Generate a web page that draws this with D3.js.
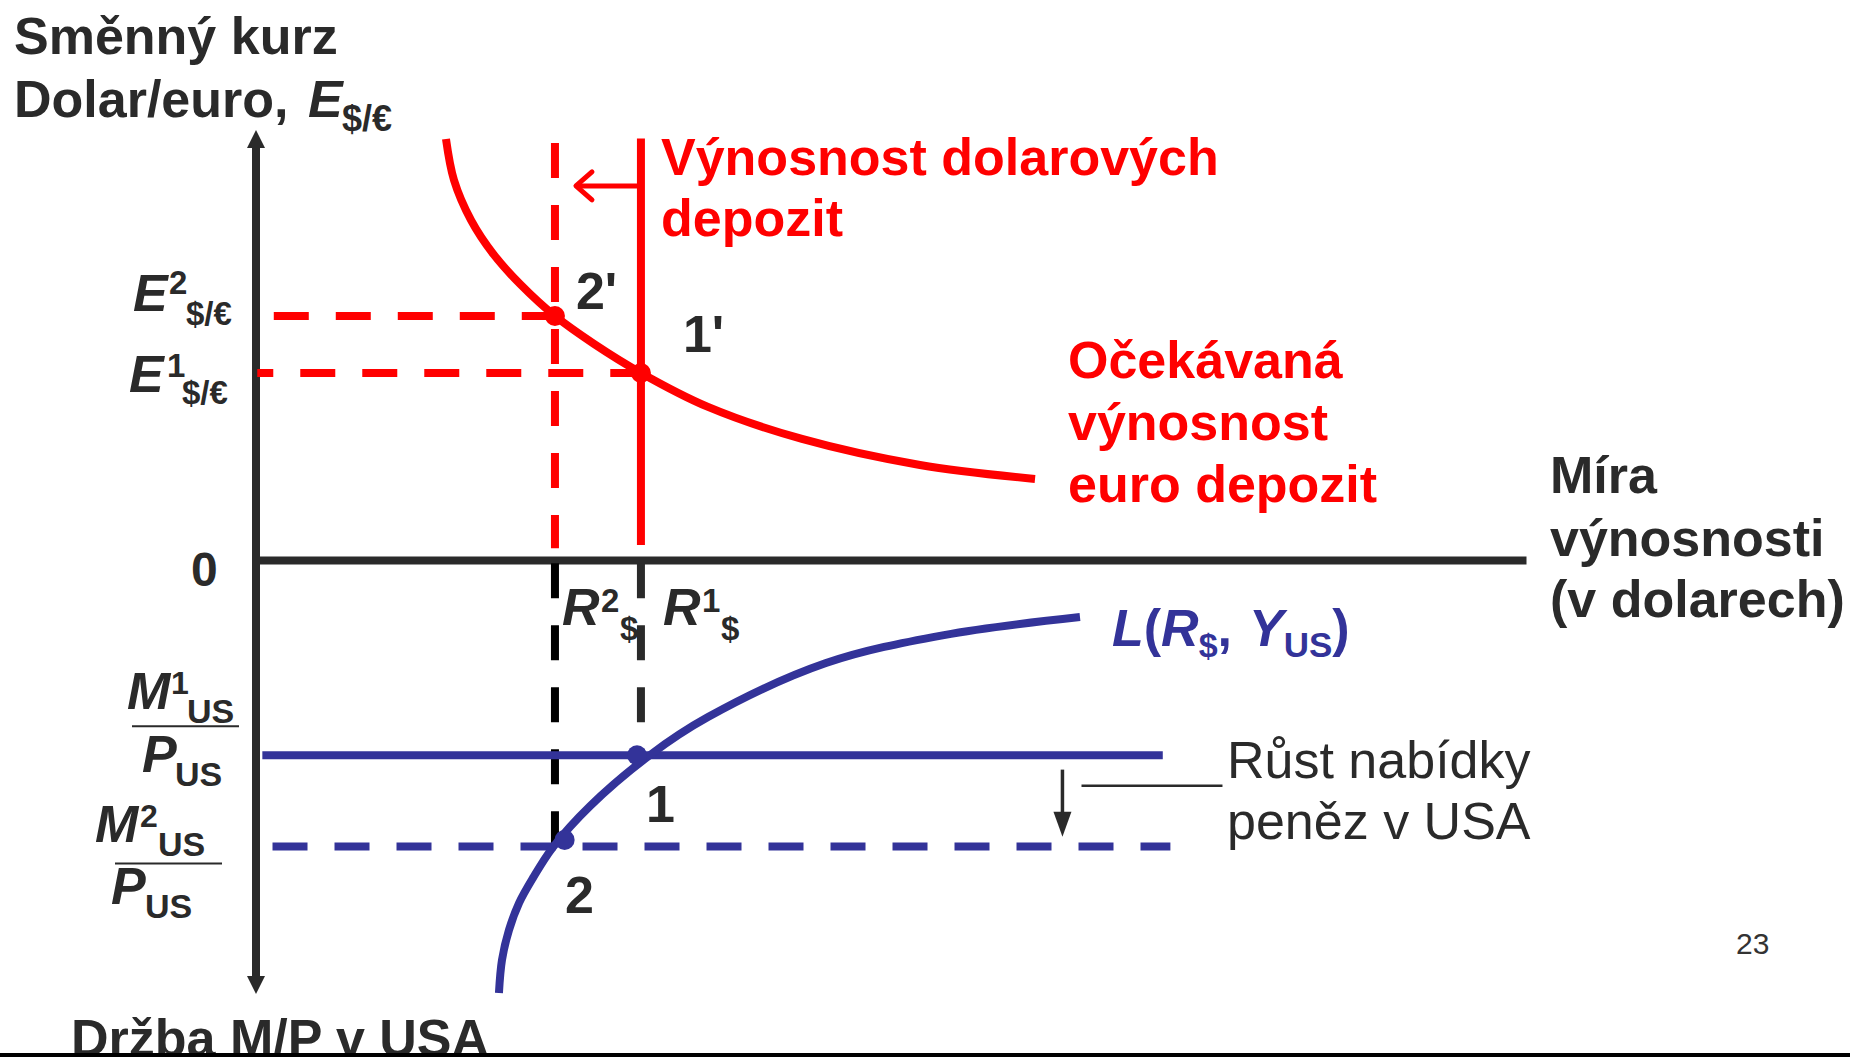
<!DOCTYPE html>
<html>
<head>
<meta charset="utf-8">
<script src="https://cdn.jsdelivr.net/npm/d3@7"></script>
<style>
  html, body { margin: 0; padding: 0; background: #fff; overflow: hidden; }
  svg { display: block; }
  text { font-family: "Liberation Sans", Arial, sans-serif; }
</style>
</head>
<body>
<svg id="chart"></svg>
<script>
// expected return on euro deposits (red curve): rate of return vs. exchange rate E$/€
const euroR = [1.496, 1.559, 1.693, 1.874, 2.087, 2.354, 2.661, 3.031, 3.559, 4.299, 5.228, 6.134];
const euroE = [1.958, 1.767, 1.581, 1.419, 1.279, 1.135, 1.005, 0.870, 0.712, 0.563, 0.442, 0.377];

// money demand L(R$, Y_US) (blue curve): rate of return vs. real money holdings
const demandR = [1.913, 1.937, 1.992, 2.071, 2.181, 2.339, 2.630, 3.102, 3.559, 4.488, 5.417, 6.488];
const demandM = [1.995, 1.843, 1.705, 1.581, 1.465, 1.323, 1.134, 0.899, 0.724, 0.475, 0.346, 0.263];

// equilibria: index 0 = state 2, index 1 = state 1
const rates = [2.354, 3.031];      // R2$, R1$
const exRates = [1.135, 0.870];    // E2, E1
const moneySupply = [1.32, 0.90];  // M2/P, M1/P
const demandDotR = [2.43, 3.00];
const demandDotM = [1.29, 0.90];

const W = 1850, H = 1057;
const RED = '#ff0000', BLUE = '#333399', INK = '#2a2a2a';
const DASH = '35,27';

const svg = d3.select('#chart').attr('width', W).attr('height', H);

// scales: one x for rate of return, E grows upwards, M/P grows downwards
const x  = d3.scaleLinear().domain([0, 10]).range([256, 1526]);
const yE = d3.scaleLinear().domain([0, 2]).range([560, 130]);
const yM = d3.scaleLinear().domain([0, 2]).range([560, 994]);

const line = d3.line().curve(d3.curveCatmullRom.alpha(0.5));

// horizontal axis
svg.append('g')
  .attr('transform', `translate(0,${yE(0)})`)
  .call(d3.axisBottom(x).tickValues([]).tickSizeOuter(0))
  .call(g => g.select('.domain').attr('stroke', INK).attr('stroke-width', 8));

// vertical axis with arrow heads at both ends
const ax = x(0);
svg.append('line')
  .attr('x1', ax).attr('x2', ax)
  .attr('y1', yE(2) + 14).attr('y2', yM(2) - 14)
  .attr('stroke', INK).attr('stroke-width', 8);
svg.append('path')
  .attr('d', `M${ax},${yE(2)} L${ax - 9},${yE(2) + 18} L${ax + 9},${yE(2) + 18} Z`)
  .attr('fill', INK);
svg.append('path')
  .attr('d', `M${ax},${yM(2)} L${ax - 9},${yM(2) - 18} L${ax + 9},${yM(2) - 18} Z`)
  .attr('fill', INK);

// ---- upper panel (red) ----
const up = svg.append('g');

// E2 / E1 guide lines
up.append('line')
  .attr('x1', x(0.14)).attr('x2', x(rates[0]))
  .attr('y1', yE(exRates[0])).attr('y2', yE(exRates[0]))
  .attr('stroke', RED).attr('stroke-width', 8).attr('stroke-dasharray', DASH);
up.append('line')
  .attr('x1', x(0.01)).attr('x2', x(rates[1]))
  .attr('y1', yE(exRates[1])).attr('y2', yE(exRates[1]))
  .attr('stroke', RED).attr('stroke-width', 8)
  .attr('stroke-dasharray', DASH).attr('stroke-dashoffset', 19);

// dollar deposit returns: dashed (new, R2) and solid (old, R1)
up.append('line')
  .attr('x1', x(rates[0])).attr('x2', x(rates[0]))
  .attr('y1', yE(1.94)).attr('y2', yE(0.055))
  .attr('stroke', RED).attr('stroke-width', 8).attr('stroke-dasharray', DASH);
up.append('line')
  .attr('x1', x(rates[1])).attr('x2', x(rates[1]))
  .attr('y1', yE(1.96)).attr('y2', yE(0.07))
  .attr('stroke', RED).attr('stroke-width', 8);

// shift arrow
const ay = yE(1.74);
up.append('line')
  .attr('x1', x(rates[1])).attr('x2', x(rates[0]) + 22)
  .attr('y1', ay).attr('y2', ay)
  .attr('stroke', RED).attr('stroke-width', 5);
up.append('polyline')
  .attr('points', `${x(rates[0]) + 37},${ay - 14} ${x(rates[0]) + 21},${ay} ${x(rates[0]) + 37},${ay + 14}`)
  .attr('fill', 'none').attr('stroke', RED).attr('stroke-width', 5)
  .attr('stroke-linecap', 'round').attr('stroke-linejoin', 'round');

// expected euro return curve
up.append('path')
  .attr('d', line(euroR.map((r, i) => [x(r), yE(euroE[i])])))
  .attr('fill', 'none').attr('stroke', RED).attr('stroke-width', 8);

up.selectAll('circle')
  .data(rates)
  .join('circle')
    .attr('cx', d => x(d))
    .attr('cy', (d, i) => yE(exRates[i]))
    .attr('r', 10)
    .attr('fill', RED);

// ---- lower panel (blue) ----
const lo = svg.append('g');

// black dashed drop lines from the R axis
lo.selectAll('line.drop')
  .data(rates)
  .join('line')
    .attr('class', 'drop')
    .attr('x1', d => x(d)).attr('x2', d => x(d))
    .attr('y1', yM(0.015))
    .attr('y2', (d, i) => yM(moneySupply[i]))
    .attr('stroke', (d, i) => i === 0 ? '#000' : INK)
    .attr('stroke-width', 8).attr('stroke-dasharray', DASH);

// money supply lines
lo.append('line')
  .attr('x1', x(0.05)).attr('x2', x(7.14))
  .attr('y1', yM(moneySupply[1])).attr('y2', yM(moneySupply[1]))
  .attr('stroke', BLUE).attr('stroke-width', 8);
lo.append('line')
  .attr('x1', x(0.13)).attr('x2', x(7.20))
  .attr('y1', yM(moneySupply[0])).attr('y2', yM(moneySupply[0]))
  .attr('stroke', BLUE).attr('stroke-width', 8).attr('stroke-dasharray', DASH);

// money demand curve
lo.append('path')
  .attr('d', line(demandR.map((r, i) => [x(r), yM(demandM[i])])))
  .attr('fill', 'none').attr('stroke', BLUE).attr('stroke-width', 8);

lo.selectAll('circle')
  .data(demandDotR)
  .join('circle')
    .attr('cx', d => x(d))
    .attr('cy', (d, i) => yM(demandDotM[i]))
    .attr('r', 10)
    .attr('fill', BLUE);

// down arrow + leader line for the annotation
const dx = x(6.35);
lo.append('line')
  .attr('x1', dx).attr('x2', dx)
  .attr('y1', yM(0.966)).attr('y2', yM(1.17))
  .attr('stroke', INK).attr('stroke-width', 3.5);
lo.append('path')
  .attr('d', `M${dx},${yM(1.275)} L${dx - 9},${yM(1.16)} L${dx + 9},${yM(1.16)} Z`)
  .attr('fill', INK);
lo.append('line')
  .attr('x1', x(6.50)).attr('x2', x(7.61))
  .attr('y1', yM(1.04)).attr('y2', yM(1.04))
  .attr('stroke', INK).attr('stroke-width', 2.5);

// ---- text ----
function label(pieces, fill) {
  const t = svg.append('text').attr('fill', fill);
  pieces.forEach(p => {
    t.append('tspan')
      .attr('x', p.x).attr('y', p.y)
      .style('font-size', (p.s || 52) + 'px')
      .style('font-weight', p.w || 'bold')
      .style('font-style', p.i ? 'italic' : 'normal')
      .text(p.t);
  });
  return t;
}

// axis titles
label([
  { t: 'Směnný kurz', x: 14, y: 54 },
  { t: 'Dolar/euro,', x: 14, y: 117 },
  { t: 'E', x: 308, y: 117, i: true },
  { t: '$/€', x: 342, y: 131, s: 36 }
], INK);
label([
  { t: 'Míra', x: 1550, y: 493 },
  { t: 'výnosnosti', x: 1550, y: 556 },
  { t: '(v dolarech)', x: 1550, y: 617 }
], INK);
label([{ t: 'Držba M/P v USA', x: 71, y: 1056 }], INK);
label([{ t: '0', x: 191, y: 586, s: 48 }], INK);

// E labels
label([
  { t: 'E', x: 133, y: yE(exRates[0]) - 5, i: true },
  { t: '2', x: 169, y: yE(exRates[0]) - 22, s: 33 },
  { t: '$/€', x: 186, y: yE(exRates[0]) + 9, s: 33 }
], INK);
label([
  { t: 'E', x: 129, y: yE(exRates[1]) + 19, i: true },
  { t: '1', x: 167, y: yE(exRates[1]) + 4, s: 33 },
  { t: '$/€', x: 182, y: yE(exRates[1]) + 31, s: 33 }
], INK);

// R labels
label([
  { t: 'R', x: x(rates[0]) + 7, y: 625, i: true },
  { t: '2', x: x(rates[0]) + 46, y: 612, s: 33 },
  { t: '$', x: x(rates[0]) + 65, y: 640, s: 33 }
], INK);
label([
  { t: 'R', x: x(rates[1]) + 22, y: 625, i: true },
  { t: '1', x: x(rates[1]) + 61, y: 612, s: 33 },
  { t: '$', x: x(rates[1]) + 80, y: 640, s: 33 }
], INK);

// point labels
label([{ t: "2'", x: x(rates[0]) + 21, y: yE(exRates[0]) - 7 }], INK);
label([{ t: "1'", x: x(rates[1]) + 42, y: yE(exRates[1]) - 21 }], INK);
label([{ t: '1', x: x(rates[1]) + 5, y: yM(moneySupply[1]) + 67 }], INK);
label([{ t: '2', x: x(rates[0]) + 10, y: yM(moneySupply[0]) + 67 }], INK);

// M/P fraction labels
function fraction(mx, my, sup, supX, usX, barX1, barX2, barY, px, py, pusX) {
  label([
    { t: 'M', x: mx, y: my, i: true },
    { t: sup, x: supX, y: my - 15, s: 32 },
    { t: 'US', x: usX, y: my + 14, s: 34 }
  ], INK);
  svg.append('line')
    .attr('x1', barX1).attr('x2', barX2)
    .attr('y1', barY).attr('y2', barY)
    .attr('stroke', INK).attr('stroke-width', 2);
  label([
    { t: 'P', x: px, y: py, i: true },
    { t: 'US', x: pusX, y: py + 14, s: 34 }
  ], INK);
}
const m1 = yM(moneySupply[1]);
fraction(127, m1 - 46, '1', 171, 187, 132, 239, m1 - 29, 142, m1 + 17, 175);
const m2 = yM(moneySupply[0]);
fraction(95, m2 - 4, '2', 140, 158, 115, 222, m2 + 17, 111, m2 + 58, 145);

// red annotations
label([
  { t: 'Výnosnost dolarových', x: 661, y: 175 },
  { t: 'depozit', x: 661, y: 236 }
], RED);
label([
  { t: 'Očekávaná', x: 1068, y: 378 },
  { t: 'výnosnost', x: 1068, y: 440 },
  { t: 'euro depozit', x: 1068, y: 502 }
], RED);

// L(R$, Y_US)
const lt = svg.append('text').attr('fill', BLUE)
  .attr('x', 1112).attr('y', 646)
  .style('font-size', '52px').style('font-weight', 'bold');
lt.append('tspan').style('font-style', 'italic').text('L');
lt.append('tspan').text('(');
lt.append('tspan').style('font-style', 'italic').text('R');
lt.append('tspan').attr('dy', 11).style('font-size', '34px').text('$');
lt.append('tspan').attr('dy', -11).text(',');
lt.append('tspan').attr('dx', 17).style('font-style', 'italic').text('Y');
lt.append('tspan').attr('dy', 11).style('font-size', '35px').text('US');
lt.append('tspan').attr('dy', -11).text(')');

label([
  { t: 'Růst nabídky', x: 1227, y: 778, w: 'normal' },
  { t: 'peněz v USA', x: 1227, y: 839, w: 'normal' }
], INK);

label([{ t: '23', x: 1736, y: 954, s: 30, w: 'normal' }], '#333');

// bottom border of the slide
svg.append('rect')
  .attr('x', 0).attr('y', 1053).attr('width', W).attr('height', 4)
  .attr('fill', '#000');
</script>
</body>
</html>
